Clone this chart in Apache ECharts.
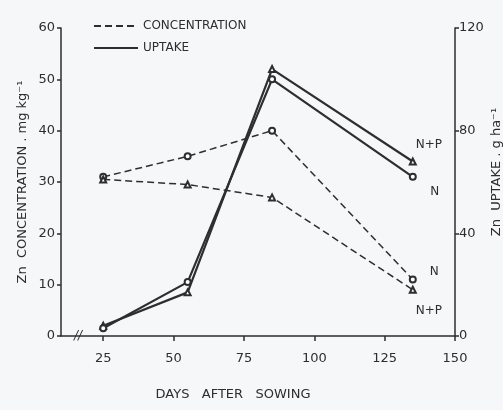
<!DOCTYPE html>
<html>
<head>
<meta charset="utf-8">
<script src="https://cdn.jsdelivr.net/npm/echarts@6/dist/echarts.min.js"></script>
<style>html,body{margin:0;padding:0;background:#f6f7f8;}#c{width:503px;height:410px;}</style>
</head>
<body>
<div id="c"></div>
<script>
// Days after sowing
const days = [25, 55, 85, 135];
// Zn concentration (mg kg-1)
const concN  = [31, 35, 40, 11];
const concNP = [30.5, 29.5, 27, 9];
// Zn uptake (g ha-1)
const uptakeNP = [4, 17, 104, 68];
const uptakeN  = [3, 21, 100, 62];
// tick labels
const xTicks = [25, 50, 75, 100, 125, 150];

const ink = '#2e2e2e';
const font = 'DejaVu Sans';

function pts(vals, lastLabel, pos, off) {
  return vals.map((v, i) => {
    const d = { value: [days[i], v] };
    if (i === vals.length - 1) {
      d.label = { show: true, formatter: lastLabel, position: pos, offset: off,
        color: ink, fontFamily: font, fontSize: 12 };
    }
    return d;
  });
}

const chart = echarts.init(document.getElementById('c'));
chart.setOption({
  backgroundColor: '#f6f7f8',
  animation: false,
  grid: { left: 61, right: 48, top: 28, bottom: 74 },
  legend: {
    data: ['CONCENTRATION', 'UPTAKE'],
    orient: 'vertical', left: 88, top: 15, itemGap: 10,
    itemWidth: 44, itemHeight: 10,
    itemStyle: { opacity: 0 },
    textStyle: { color: ink, fontFamily: font, fontSize: 12 }
  },
  xAxis: {
    type: 'value', min: 10, max: 150,
    splitLine: { show: false },
    axisLine: { lineStyle: { color: ink, width: 1.5 } },
    axisTick: { show: true, length: 5, customValues: xTicks, lineStyle: { color: ink, width: 1.5 } },
    axisLabel: { customValues: xTicks, color: ink, fontFamily: font, fontSize: 13, margin: 16 }
  },
  yAxis: [
    {
      type: 'value', min: 0, max: 60, interval: 10,
      splitLine: { show: false },
      axisLine: { show: true, lineStyle: { color: ink, width: 1.5 } },
      axisTick: { show: true, length: 4, lineStyle: { color: ink, width: 1.5 } },
      axisLabel: { color: ink, fontFamily: font, fontSize: 13, margin: 6 }
    },
    {
      type: 'value', min: 0, max: 120, interval: 40, position: 'right',
      splitLine: { show: false },
      axisLine: { show: true, lineStyle: { color: ink, width: 1.5 } },
      axisTick: { show: true, length: 4, lineStyle: { color: ink, width: 1.5 } },
      axisLabel: { color: ink, fontFamily: font, fontSize: 13, margin: 4 }
    }
  ],
  graphic: [
    { type: 'text', rotation: Math.PI / 2, x: 23, y: 182,
      style: { text: 'Zn  CONCENTRATION . mg kg⁻¹', fill: ink, font: '13px DejaVu Sans',
        textAlign: 'center', textVerticalAlign: 'middle' } },
    { type: 'text', rotation: Math.PI / 2, x: 497, y: 172,
      style: { text: 'Zn  UPTAKE . g ha⁻¹', fill: ink, font: '13px DejaVu Sans',
        textAlign: 'center', textVerticalAlign: 'middle' } },
    { type: 'text', x: 233, y: 395,
      style: { text: 'DAYS   AFTER   SOWING', fill: ink, font: '13px DejaVu Sans',
        textAlign: 'center', textVerticalAlign: 'middle' } },
    { type: 'text', x: 78, y: 336,
      style: { text: '//', fill: ink, font: 'italic 12px DejaVu Sans',
        textAlign: 'center', textVerticalAlign: 'middle' } }
  ],
  series: [
    {
      name: 'CONCENTRATION', type: 'line', yAxisIndex: 0,
      data: pts(concN, 'N', 'right', [8, -8]),
      symbol: 'emptyCircle', symbolSize: 6,
      lineStyle: { color: ink, width: 1.5, type: [7, 4] },
      itemStyle: { color: ink, borderWidth: 1.2 }
    },
    {
      name: 'CONCENTRATION N+P', type: 'line', yAxisIndex: 0,
      data: pts(concNP, 'N+P', 'bottom', [16, 6]),
      symbol: 'emptyTriangle', symbolSize: 6,
      lineStyle: { color: ink, width: 1.5, type: [7, 4] },
      itemStyle: { color: ink, borderWidth: 1.2 }
    },
    {
      name: 'UPTAKE', type: 'line', yAxisIndex: 1,
      data: pts(uptakeNP, 'N+P', 'top', [16, -2]),
      symbol: 'emptyTriangle', symbolSize: 6,
      lineStyle: { color: ink, width: 2.2 },
      itemStyle: { color: ink, borderWidth: 1.2 }
    },
    {
      name: 'UPTAKE N', type: 'line', yAxisIndex: 1,
      data: pts(uptakeN, 'N', 'bottom', [22, 0]),
      symbol: 'emptyCircle', symbolSize: 6,
      lineStyle: { color: ink, width: 2.2 },
      itemStyle: { color: ink, borderWidth: 1.2 }
    }
  ]
});
</script>
</body>
</html>
